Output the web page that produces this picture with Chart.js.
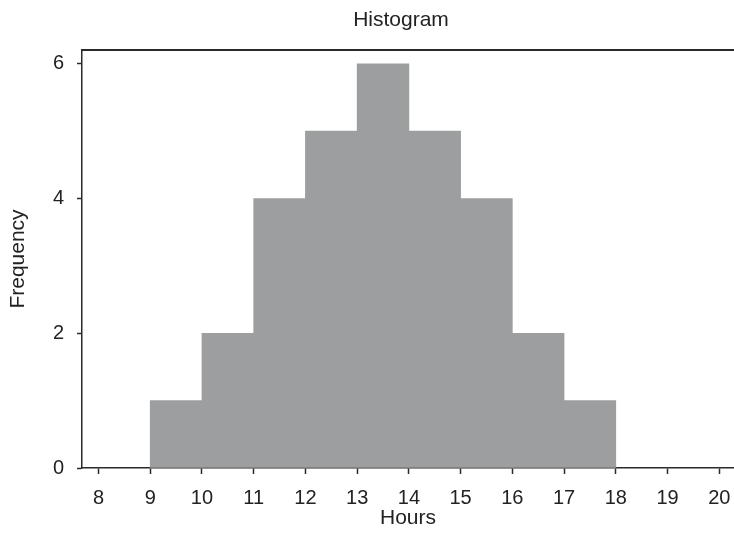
<!DOCTYPE html>
<html>
<head>
<meta charset="utf-8">
<script src="https://cdn.jsdelivr.net/npm/chart.js@4.4.0/dist/chart.umd.min.js"></script>
<style>
  html, body { margin: 0; padding: 0; background: #fff; }
  #wrap { width: 734px; height: 541px; }
</style>
</head>
<body>
<div id="wrap"><canvas id="c" width="734" height="541"></canvas></div>
<script>
// Data
const binStarts = [9, 10, 11, 12, 13, 14, 15, 16, 17];
const binEnds   = [10, 11, 12, 13, 14, 15, 16, 17, 18];
const frequencies = [1, 2, 4, 5, 6, 5, 4, 2, 1];
const xTickValues = [8, 9, 10, 11, 12, 13, 14, 15, 16, 17, 18, 19, 20];
const yTickValues = [0, 2, 4, 6];

const chartTitle = 'Histogram';
const xTitle = 'Hours';
const yTitle = 'Frequency';

const points = binStarts.map((s, i) => ({ x: (s + binEnds[i]) / 2, y: frequencies[i] }));

const FONT = "'Liberation Sans', Arial, Helvetica, sans-serif";
const AXIS_COLOR = '#2a2a2a';

const topBorder = {
  id: 'topBorder',
  afterLayout(chart) {
    // centre the title a little left of the plot centre, as in the reference
    if (chart.titleBlock) { chart.titleBlock.left = 68; chart.titleBlock.right = 734; }
  },
  afterDraw(chart) {
    const { ctx, chartArea } = chart;
    ctx.save();
    ctx.strokeStyle = AXIS_COLOR;
    ctx.lineWidth = 1.8;
    ctx.beginPath();
    ctx.moveTo(chartArea.left, chartArea.top);
    ctx.lineTo(chart.width, chartArea.top);
    ctx.stroke();
    ctx.restore();
  }
};

new Chart(document.getElementById('c'), {
  type: 'bar',
  data: {
    datasets: [{
      data: points,
      backgroundColor: '#9d9ea0',
      borderWidth: 0,
      barPercentage: 1.0,
      categoryPercentage: 1.0
    }]
  },
  options: {
    responsive: false,
    animation: false,
    events: [],
    layout: { padding: 0 },
    plugins: {
      legend: { display: false },
      tooltip: { enabled: false },
      title: {
        display: true,
        text: chartTitle,
        fullSize: false,
        color: '#222',
        font: { family: FONT, size: 21, weight: 'normal', lineHeight: 1.2 },
        padding: { top: 8, bottom: 16.8 }
      }
    },
    scales: {
      x: {
        type: 'linear',
        min: 7.681,
        max: 20.285,
        offset: false,
        afterFit(scale) { scale.height = 73; scale.paddingLeft = 0; scale.paddingRight = 0; },
        afterBuildTicks(scale) { scale.ticks = xTickValues.map(v => ({ value: v })); },
        ticks: {
          color: '#222',
          font: { family: FONT, size: 20 },
          padding: 12,
          maxRotation: 0,
          autoSkip: false,
          includeBounds: false
        },
        grid: {
          display: true,
          offset: false,
          drawOnChartArea: false,
          drawTicks: true,
          tickLength: 6,
          tickWidth: 1.5,
          tickColor: AXIS_COLOR
        },
        border: { display: true, color: AXIS_COLOR, width: 1.5 },
        title: {
          display: true,
          text: xTitle,
          color: '#222',
          font: { family: FONT, size: 21, lineHeight: 1.2 },
          padding: { top: 0, bottom: 10 }
        }
      },
      y: {
        type: 'linear',
        min: 0,
        max: 6.205,
        afterFit(scale) { scale.width = 82; scale.paddingTop = 0; scale.paddingBottom = 0; },
        afterBuildTicks(scale) { scale.ticks = yTickValues.map(v => ({ value: v })); },
        ticks: {
          color: '#222',
          font: { family: FONT, size: 20 },
          padding: 13,
          includeBounds: false
        },
        grid: {
          display: true,
          offset: false,
          drawOnChartArea: false,
          drawTicks: true,
          tickLength: 5,
          tickWidth: 1.5,
          tickColor: AXIS_COLOR
        },
        border: { display: true, color: AXIS_COLOR, width: 1.5 },
        title: {
          display: true,
          text: yTitle,
          color: '#222',
          font: { family: FONT, size: 21, lineHeight: 1.2 },
          padding: { top: 6, bottom: 0 }
        }
      }
    }
  },
  plugins: [topBorder]
});
</script>
</body>
</html>
